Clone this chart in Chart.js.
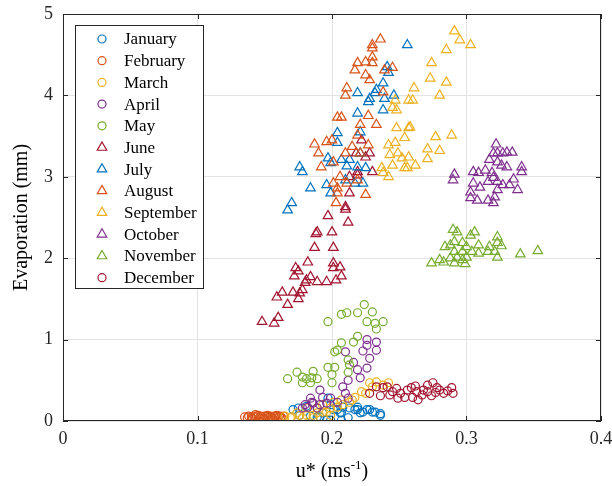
<!DOCTYPE html>
<html>
<head>
<meta charset="utf-8">
<script src="https://cdn.jsdelivr.net/npm/chart.js@4"></script>
<style>
  html, body { margin: 0; padding: 0; background: #fff; overflow: hidden; }
  #wrap { width: 612px; height: 486px; }
</style>
</head>
<body>
<div id="wrap"><canvas id="evapChart"></canvas></div>
<script>
// month names shown in the legend
const months = ['January', 'February', 'March', 'April', 'May', 'June',
                'July', 'August', 'September', 'October', 'November', 'December'];

// tick labels
const xTicks = [0, 0.1, 0.2, 0.3, 0.4];
const yTicks = [0, 1, 2, 3, 4, 5];

// [u*, evaporation] pairs
const january = [[0.175,0.16],[0.181,0.18],[0.197,0.28],[0.199,0.20],[0.204,0.14],[0.207,0.10],[0.212,0.04],
  [0.217,0.14],[0.221,0.10],[0.226,0.14],[0.230,0.11],[0.236,0.07],[0.219,0.17],[0.213,0.16],[0.191,0.05],
  [0.196,0.01],[0.207,0.01],[0.171,0.14],[0.176,0.07],[0.189,0.05],[0.193,0.10],[0.201,0.14],[0.206,0.10],
  [0.219,0.14],[0.223,0.11],[0.228,0.14],[0.232,0.11],[0.236,0.09],[0.208,0.17],[0.199,0.01],[0.184,0.06]];
const february = [[0.135,0.05],[0.137,0.04],[0.138,0.06],[0.140,0.05],[0.141,0.03],[0.142,0.06],[0.144,0.05],
  [0.145,0.07],[0.146,0.04],[0.147,0.06],[0.148,0.05],[0.149,0.03],[0.150,0.06],[0.151,0.05],[0.152,0.07],
  [0.153,0.04],[0.154,0.06],[0.155,0.05],[0.156,0.03],[0.157,0.06],[0.158,0.05],[0.159,0.07],[0.160,0.04],
  [0.161,0.06],[0.162,0.05],[0.163,0.03],[0.164,0.06],[0.143,0.08]];
const march = [[0.228,0.47],[0.233,0.48],[0.238,0.44],[0.242,0.47],[0.230,0.42],[0.225,0.34],[0.222,0.36],
  [0.217,0.29],[0.215,0.26],[0.213,0.23],[0.208,0.20],[0.204,0.17],[0.199,0.16],[0.196,0.11],[0.193,0.11],
  [0.189,0.10],[0.186,0.07],[0.181,0.07],[0.176,0.07],[0.174,0.10],[0.170,0.05],[0.169,0.04],[0.181,0.16],
  [0.189,0.16],[0.193,0.20],[0.201,0.23],[0.207,0.26],[0.178,0.04],[0.186,0.04],[0.199,0.07],[0.165,0.06]];
const april = [[0.226,1.00],[0.226,0.93],[0.233,0.97],[0.233,0.87],[0.228,0.77],[0.223,0.86],[0.210,0.85],
  [0.216,0.72],[0.212,0.50],[0.208,0.42],[0.219,0.63],[0.226,0.65],[0.212,0.28],[0.210,0.34],[0.191,0.38],
  [0.184,0.28],[0.180,0.20],[0.186,0.22],[0.193,0.29],[0.196,0.22],[0.204,0.23],[0.189,0.16],[0.178,0.16],
  [0.182,0.17],[0.199,0.28],[0.191,0.20],[0.221,0.53],[0.185,0.23]];
const may = [[0.197,1.22],[0.207,1.31],[0.211,1.33],[0.219,1.33],[0.224,1.43],[0.230,1.34],[0.226,1.22],
  [0.232,1.20],[0.238,1.22],[0.233,1.13],[0.219,1.04],[0.216,0.97],[0.207,0.96],[0.202,0.85],[0.204,0.87],
  [0.212,0.75],[0.213,0.69],[0.197,0.66],[0.202,0.66],[0.212,0.60],[0.200,0.57],[0.200,0.47],[0.167,0.52],
  [0.174,0.60],[0.178,0.54],[0.181,0.52],[0.186,0.61],[0.185,0.53],[0.189,0.52],[0.178,0.47],[0.184,0.47]];
const june = [[0.148,1.22],[0.157,1.20],[0.160,1.27],[0.159,1.52],[0.163,1.58],[0.167,1.43],[0.171,1.58],
  [0.176,1.57],[0.178,1.61],[0.175,1.50],[0.172,1.78],[0.173,1.88],[0.175,1.84],[0.180,1.70],[0.181,1.73],
  [0.184,1.77],[0.189,1.71],[0.196,1.71],[0.182,1.95],[0.201,1.94],[0.201,1.88],[0.206,1.89],[0.207,1.78],
  [0.203,1.73],[0.187,2.13],[0.201,2.13],[0.188,2.30],[0.189,2.32],[0.200,2.32],[0.197,2.52],[0.210,2.63],
  [0.210,2.60],[0.212,2.44],[0.213,2.80],[0.213,3.00],[0.219,3.02],[0.219,3.06],[0.230,3.06],[0.218,3.29],
  [0.225,3.24],[0.228,3.29],[0.222,3.45]];
const july = [[0.256,4.62],[0.241,4.35],[0.242,4.28],[0.238,4.15],[0.233,4.07],[0.232,4.03],[0.246,4.00],
  [0.239,3.96],[0.228,3.96],[0.227,3.92],[0.219,4.03],[0.238,3.82],[0.219,3.78],[0.204,3.54],[0.221,3.55],
  [0.204,3.42],[0.197,3.23],[0.199,3.17],[0.176,3.12],[0.178,3.06],[0.207,3.21],[0.213,3.21],[0.211,3.13],
  [0.219,3.12],[0.221,3.29],[0.225,3.11],[0.184,2.86],[0.196,2.90],[0.199,2.80],[0.210,2.96],[0.217,2.92],
  [0.170,2.68],[0.167,2.59],[0.223,2.92]];
const august = [[0.236,4.69],[0.230,4.62],[0.230,4.58],[0.230,4.47],[0.219,4.40],[0.225,4.41],[0.230,4.40],
  [0.217,4.31],[0.225,4.25],[0.228,4.19],[0.239,4.31],[0.245,4.34],[0.211,4.09],[0.210,4.00],[0.238,4.04],
  [0.204,3.73],[0.207,3.73],[0.227,3.75],[0.233,3.64],[0.221,3.64],[0.219,3.51],[0.200,3.45],[0.196,3.43],
  [0.187,3.40],[0.190,3.29],[0.192,3.12],[0.215,3.37],[0.227,3.39],[0.221,3.29],[0.206,3.00],[0.201,2.92],
  [0.204,2.86],[0.204,2.80],[0.203,2.68],[0.225,2.78],[0.211,2.92],[0.219,2.96],[0.210,3.29],[0.201,3.18]];
const september = [[0.291,4.79],[0.295,4.68],[0.303,4.62],[0.285,4.56],[0.274,4.40],[0.273,4.21],[0.285,4.16],
  [0.280,4.00],[0.261,4.09],[0.260,3.94],[0.257,3.94],[0.247,3.94],[0.245,3.85],[0.248,3.82],[0.248,3.60],
  [0.257,3.60],[0.258,3.61],[0.254,3.48],[0.242,3.39],[0.247,3.42],[0.243,3.27],[0.249,3.29],[0.252,3.23],
  [0.245,3.14],[0.254,3.11],[0.237,3.11],[0.238,3.05],[0.242,3.00],[0.277,3.49],[0.289,3.51],[0.271,3.34],
  [0.280,3.32],[0.271,3.22],[0.262,3.14],[0.256,3.11],[0.257,3.24]];
const october = [[0.322,3.40],[0.320,3.29],[0.323,3.29],[0.327,3.29],[0.330,3.30],[0.334,3.30],[0.317,3.21],
  [0.323,3.18],[0.326,3.14],[0.330,3.12],[0.341,3.12],[0.341,3.06],[0.291,3.03],[0.290,2.96],[0.305,3.06],
  [0.309,3.05],[0.314,3.08],[0.319,3.05],[0.320,2.99],[0.323,2.94],[0.335,2.97],[0.305,2.92],[0.310,2.87],
  [0.316,2.94],[0.327,2.90],[0.332,2.90],[0.338,2.84],[0.323,2.84],[0.303,2.81],[0.303,2.74],[0.308,2.71],
  [0.316,2.71],[0.321,2.75],[0.320,2.68]];
const november = [[0.290,2.35],[0.293,2.32],[0.303,2.28],[0.306,2.32],[0.323,2.26],[0.284,2.14],[0.288,2.16],
  [0.291,2.20],[0.297,2.19],[0.300,2.14],[0.309,2.16],[0.317,2.14],[0.323,2.19],[0.326,2.15],[0.291,2.08],
  [0.297,2.08],[0.304,2.08],[0.309,2.06],[0.316,2.08],[0.321,2.08],[0.288,2.00],[0.293,2.01],[0.297,1.98],
  [0.300,2.01],[0.274,1.94],[0.280,1.98],[0.291,1.94],[0.299,1.93],[0.323,2.01],[0.340,2.05],[0.353,2.09],
  [0.283,1.95]];
const december = [[0.228,0.34],[0.233,0.42],[0.241,0.42],[0.245,0.36],[0.251,0.34],[0.256,0.38],[0.259,0.41],
  [0.263,0.36],[0.268,0.38],[0.271,0.44],[0.275,0.47],[0.278,0.41],[0.283,0.34],[0.289,0.41],[0.290,0.34],
  [0.254,0.29],[0.260,0.29],[0.249,0.28],[0.267,0.32],[0.271,0.36],[0.238,0.41],[0.280,0.38],[0.243,0.32],
  [0.264,0.26],[0.274,0.31],[0.286,0.37],[0.236,0.31],[0.248,0.40],[0.262,0.43],[0.277,0.35]];

const monthData = [january, february, march, april, may, june,
                   july, august, september, october, november, december];
const monthColors = ['#0072BD', '#D95319', '#EDB120', '#7E2F8E', '#77AC30', '#A2142F',
                     '#0072BD', '#D95319', '#EDB120', '#7E2F8E', '#77AC30', '#A2142F'];
const monthMarkers = ['circle', 'circle', 'circle', 'circle', 'circle', 'triangle',
                      'triangle', 'triangle', 'triangle', 'triangle', 'triangle', 'circle'];

const serif = "'Liberation Serif', 'Times New Roman', serif";
const textColor = '#262626';

function markerRadius(style) {
    return style === 'triangle' ? 5.5 : 4;
}

function drawMarker(ctx, style, x, y, color) {
    const r = markerRadius(style);
    ctx.beginPath();
    if (style === 'triangle') {
        let rad = 0;
        ctx.moveTo(x + Math.sin(rad) * r, y - Math.cos(rad) * r);
        rad += Math.PI * 2 / 3;
        ctx.lineTo(x + Math.sin(rad) * r, y - Math.cos(rad) * r);
        rad += Math.PI * 2 / 3;
        ctx.lineTo(x + Math.sin(rad) * r, y - Math.cos(rad) * r);
        ctx.closePath();
    } else {
        ctx.arc(x, y, r, 0, Math.PI * 2);
    }
    ctx.strokeStyle = color;
    ctx.lineWidth = 1.2;
    ctx.stroke();
}

// box, inward ticks, legend and x title drawn on top of the points
const matlabAxes = {
    id: 'matlabAxes',
    afterDraw(chart) {
        const { ctx, chartArea: a, scales: { x, y } } = chart;
        ctx.save();

        // box + ticks
        ctx.strokeStyle = textColor;
        ctx.lineWidth = 1;
        ctx.strokeRect(a.left + 0.5, a.top + 0.5, a.right - a.left - 1, a.bottom - a.top - 1);
        ctx.beginPath();
        xTicks.forEach(v => {
            const px = Math.round(x.getPixelForValue(v)) + 0.5;
            ctx.moveTo(px, a.bottom); ctx.lineTo(px, a.bottom - 5);
            ctx.moveTo(px, a.top); ctx.lineTo(px, a.top + 5);
        });
        yTicks.forEach(v => {
            const py = Math.round(y.getPixelForValue(v)) + 0.5;
            ctx.moveTo(a.left, py); ctx.lineTo(a.left + 5, py);
            ctx.moveTo(a.right, py); ctx.lineTo(a.right - 5, py);
        });
        ctx.stroke();

        // legend
        const lx = a.left + 12, ly = a.top + 11;
        const lw = 128, lh = 263, rowH = 21.7;
        ctx.fillStyle = '#fff';
        ctx.fillRect(lx, ly, lw, lh);
        ctx.strokeStyle = '#262626';
        ctx.strokeRect(lx + 0.5, ly + 0.5, lw, lh);
        ctx.font = '17px ' + serif;
        ctx.textBaseline = 'middle';
        ctx.textAlign = 'left';
        chart.data.datasets.forEach((ds, i) => {
            const ry = ly + 14 + i * rowH;
            drawMarker(ctx, monthMarkers[i], lx + 27, ry, ds.borderColor);
            ctx.fillStyle = '#000';
            ctx.fillText(ds.label, lx + 49, ry + 1);
        });

        // x axis title with superscript
        const cx = (a.left + a.right) / 2, ty = 470;
        const big = '20px ' + serif, small = '13px ' + serif;
        ctx.font = big;
        const w1 = ctx.measureText('u* (ms').width;
        const w3 = ctx.measureText(')').width;
        ctx.font = small;
        const w2 = ctx.measureText('-1').width;
        let sx = cx - (w1 + w2 + w3) / 2;
        ctx.fillStyle = '#000';
        ctx.textBaseline = 'alphabetic';
        ctx.font = big;
        ctx.fillText('u* (ms', sx, ty + 7);
        ctx.font = small;
        ctx.fillText('-1', sx + w1, ty - 1);
        ctx.font = big;
        ctx.fillText(')', sx + w1 + w2, ty + 7);

        ctx.restore();
    }
};

const datasets = months.map((m, i) => ({
    label: m,
    data: monthData[i].map(p => ({ x: p[0], y: p[1] })),
    pointStyle: monthMarkers[i],
    pointRadius: markerRadius(monthMarkers[i]),
    borderColor: monthColors[i],
    backgroundColor: 'rgba(0,0,0,0)',
    borderWidth: 1.2,
    order: 11 - i
}));

new Chart(document.getElementById('evapChart'), {
    type: 'scatter',
    data: { datasets: datasets },
    options: {
        responsive: true,
        maintainAspectRatio: false,
        animation: false,
        layout: { padding: { top: 14, right: 11, left: 0, bottom: 0 } },
        plugins: {
            legend: { display: false },
            tooltip: { enabled: false }
        },
        scales: {
            x: {
                type: 'linear',
                min: 0,
                max: 0.4,
                afterBuildTicks: scale => { scale.ticks = xTicks.map(v => ({ value: v })); },
                afterFit: scale => {
                    scale.height = 65;
                    scale.paddingLeft = 0;
                    scale.paddingRight = 0;
                },
                grid: { color: '#e3e3e3', drawTicks: false },
                border: { display: false },
                ticks: {
                    padding: 7,
                    color: textColor,
                    font: { family: serif, size: 18 },
                    callback: v => String(v)
                }
            },
            y: {
                type: 'linear',
                min: 0,
                max: 5,
                afterBuildTicks: scale => { scale.ticks = yTicks.map(v => ({ value: v })); },
                afterFit: scale => {
                    scale.width = 63;
                    scale.paddingTop = 0;
                    scale.paddingBottom = 0;
                },
                grid: { color: '#e3e3e3', drawTicks: false },
                border: { display: false },
                title: {
                    display: true,
                    text: 'Evaporation (mm)',
                    color: '#000',
                    font: { family: serif, size: 20 },
                    padding: { top: 10, bottom: 0 }
                },
                ticks: {
                    padding: 10,
                    color: textColor,
                    font: { family: serif, size: 18 },
                    callback: v => String(v)
                }
            }
        }
    },
    plugins: [matlabAxes]
});
</script>
</body>
</html>
